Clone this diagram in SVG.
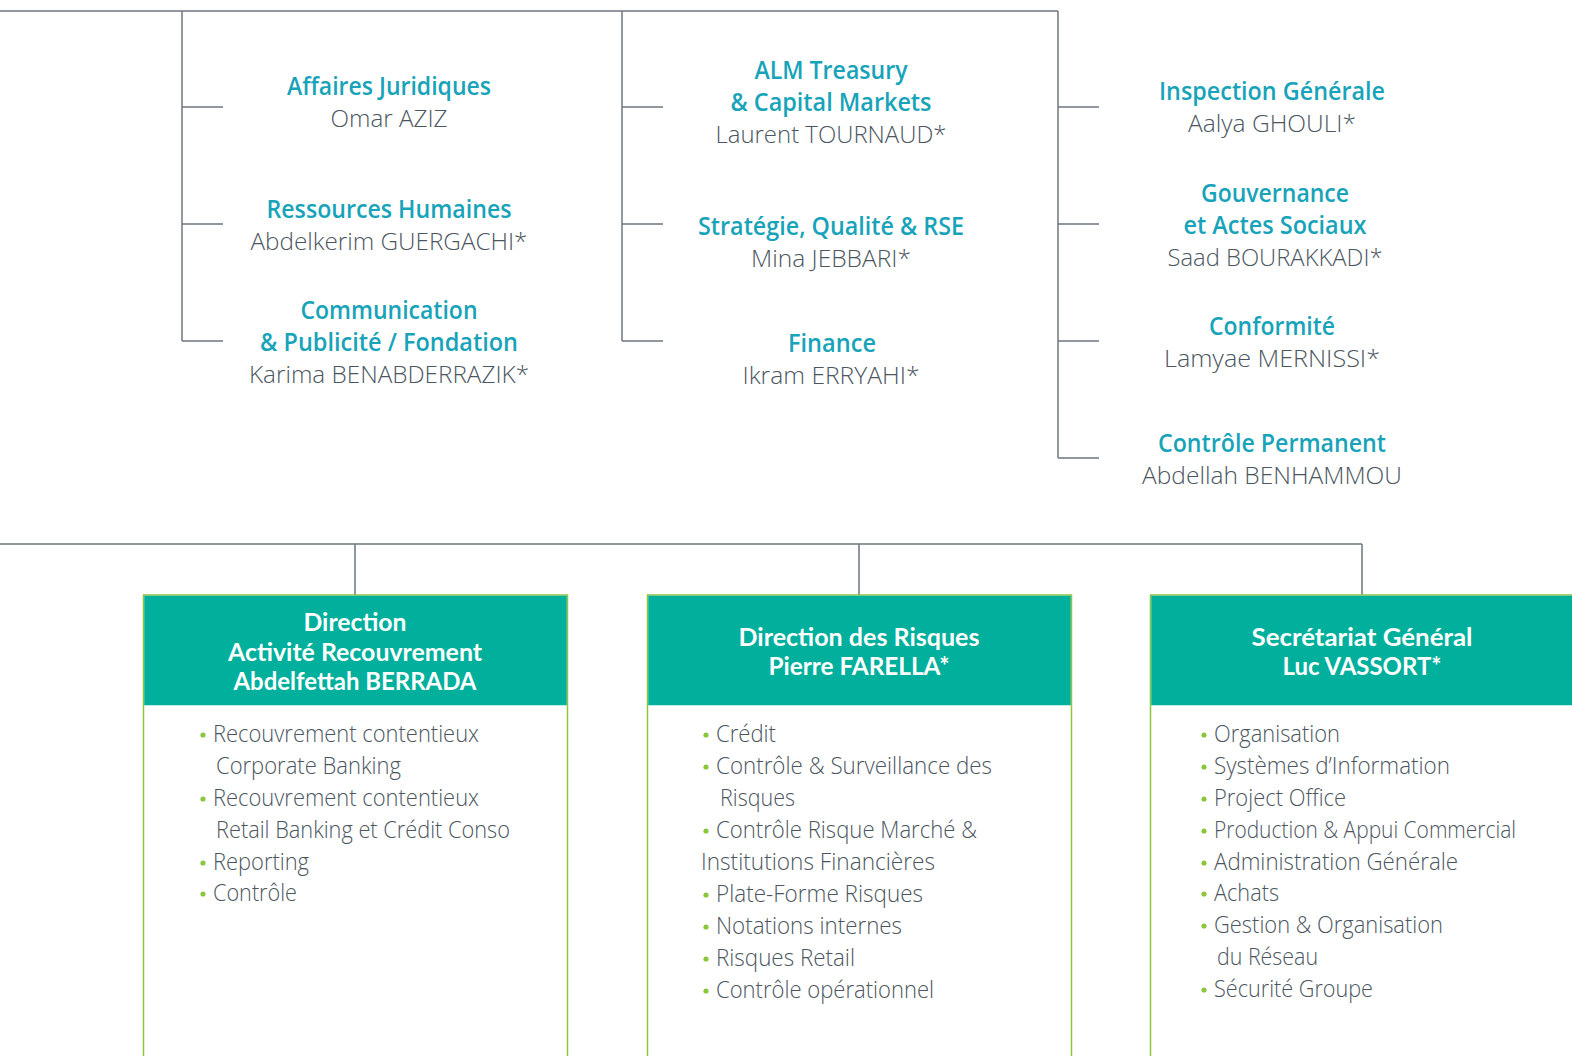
<svg xmlns="http://www.w3.org/2000/svg" width="1572" height="1056" viewBox="0 0 1572 1056">
  <style>
    .ln { stroke: #6d7680; stroke-width: 1.5; fill: none; }
    text { font-family: "Open Sans", "Liberation Sans", sans-serif; }
    .t { font-size: 25px; font-weight: 600; fill: #17a3b9; text-anchor: middle; }
    .n { font-size: 24px; font-weight: 300; fill: #4b5660; text-anchor: middle; }
    .h { font-family: Lato, "Liberation Sans", sans-serif; font-size: 24px; font-weight: 700; fill: #ffffff; text-anchor: middle; }
    .b { font-size: 23px; font-weight: 300; fill: #4b5660; }
    .dot { fill: #8cc63f; }
    .box { fill: #ffffff; stroke: #8cc63f; stroke-width: 1.5; }
    .hd { fill: #00b09c; }
  </style>

  <!-- connectors -->
  <g id="connectors" class="ln">
    <path d="M0 11 H1058"/>
    <path d="M182 11 V341"/>
    <path d="M622 11 V341"/>
    <path d="M1058 11 V458"/>
    <path d="M182 107 H223 M182 224 H223 M182 341 H223"/>
    <path d="M622 107 H663 M622 224 H663 M622 341 H663"/>
    <path d="M1058 107 H1099 M1058 224 H1099 M1058 341 H1099 M1058 458 H1099"/>
    <path d="M0 544 H1362"/>
    <path d="M355 544 V595 M859 544 V595 M1362 544 V595"/>
  </g>

  <!-- left column -->
  <g id="affaires-juridiques">
    <text class="t" x="389" y="95" textLength="204" lengthAdjust="spacingAndGlyphs">Affaires Juridiques</text>
    <text class="n" x="389" y="127" textLength="117" lengthAdjust="spacingAndGlyphs">Omar AZIZ</text>
  </g>
  <g id="ressources-humaines">
    <text class="t" x="389" y="218" textLength="245" lengthAdjust="spacingAndGlyphs">Ressources Humaines</text>
    <text class="n" x="389" y="250" textLength="277" lengthAdjust="spacingAndGlyphs">Abdelkerim GUERGACHI*</text>
  </g>
  <g id="communication">
    <text class="t" x="389" y="319" textLength="177" lengthAdjust="spacingAndGlyphs">Communication</text>
    <text class="t" x="389" y="351" textLength="258" lengthAdjust="spacingAndGlyphs">&amp; Publicité / Fondation</text>
    <text class="n" x="389" y="383" textLength="280" lengthAdjust="spacingAndGlyphs">Karima BENABDERRAZIK*</text>
  </g>

  <!-- middle column -->
  <g id="alm-treasury">
    <text class="t" x="831" y="79" textLength="153" lengthAdjust="spacingAndGlyphs">ALM Treasury</text>
    <text class="t" x="831" y="111" textLength="201" lengthAdjust="spacingAndGlyphs">&amp; Capital Markets</text>
    <text class="n" x="831" y="143" textLength="231" lengthAdjust="spacingAndGlyphs">Laurent TOURNAUD*</text>
  </g>
  <g id="strategie">
    <text class="t" x="831" y="235" textLength="266" lengthAdjust="spacingAndGlyphs">Stratégie, Qualité &amp; RSE</text>
    <text class="n" x="831" y="267" textLength="160" lengthAdjust="spacingAndGlyphs">Mina JEBBARI*</text>
  </g>
  <g id="finance">
    <text class="t" x="832" y="352" textLength="88" lengthAdjust="spacingAndGlyphs">Finance</text>
    <text class="n" x="831" y="384" textLength="177" lengthAdjust="spacingAndGlyphs">Ikram ERRYAHI*</text>
  </g>

  <!-- right column -->
  <g id="inspection-generale">
    <text class="t" x="1272" y="100" textLength="226" lengthAdjust="spacingAndGlyphs">Inspection Générale</text>
    <text class="n" x="1272" y="132" textLength="168" lengthAdjust="spacingAndGlyphs">Aalya GHOULI*</text>
  </g>
  <g id="gouvernance">
    <text class="t" x="1275" y="202" textLength="148" lengthAdjust="spacingAndGlyphs">Gouvernance</text>
    <text class="t" x="1275" y="234" textLength="183" lengthAdjust="spacingAndGlyphs">et Actes Sociaux</text>
    <text class="n" x="1275" y="266" textLength="215" lengthAdjust="spacingAndGlyphs">Saad BOURAKKADI*</text>
  </g>
  <g id="conformite">
    <text class="t" x="1272" y="335" textLength="126" lengthAdjust="spacingAndGlyphs">Conformité</text>
    <text class="n" x="1272" y="367" textLength="216" lengthAdjust="spacingAndGlyphs">Lamyae MERNISSI*</text>
  </g>
  <g id="controle-permanent">
    <text class="t" x="1272" y="452" textLength="228" lengthAdjust="spacingAndGlyphs">Contrôle Permanent</text>
    <text class="n" x="1272" y="484" textLength="260" lengthAdjust="spacingAndGlyphs">Abdellah BENHAMMOU</text>
  </g>

  <!-- Direction Activité Recouvrement -->
  <g id="recouvrement">
    <rect class="box" x="143.5" y="595" width="424" height="470"/>
    <rect class="hd" x="144.25" y="595.75" width="422.5" height="109.5"/>
    <text class="h" x="355" y="631" textLength="103" lengthAdjust="spacingAndGlyphs">Direction</text>
    <text class="h" x="355" y="661" textLength="254" lengthAdjust="spacingAndGlyphs">Activité Recouvrement</text>
    <text class="h" x="355" y="690" textLength="243" lengthAdjust="spacingAndGlyphs">Abdelfettah BERRADA</text>
    <circle class="dot" cx="203" cy="735" r="2.6"/>
    <text class="b" x="213" y="742" textLength="266" lengthAdjust="spacingAndGlyphs">Recouvrement contentieux</text>
    <text class="b" x="216" y="774" textLength="185" lengthAdjust="spacingAndGlyphs">Corporate Banking</text>
    <circle class="dot" cx="203" cy="799" r="2.6"/>
    <text class="b" x="213" y="806" textLength="266" lengthAdjust="spacingAndGlyphs">Recouvrement contentieux</text>
    <text class="b" x="216" y="838" textLength="294" lengthAdjust="spacingAndGlyphs">Retail Banking et Crédit Conso</text>
    <circle class="dot" cx="203" cy="863" r="2.6"/>
    <text class="b" x="213" y="870" textLength="96" lengthAdjust="spacingAndGlyphs">Reporting</text>
    <circle class="dot" cx="203" cy="894" r="2.6"/>
    <text class="b" x="213" y="901" textLength="84" lengthAdjust="spacingAndGlyphs">Contrôle</text>
  </g>

  <!-- Direction des Risques -->
  <g id="risques">
    <rect class="box" x="647.5" y="595" width="424" height="470"/>
    <rect class="hd" x="648.25" y="595.75" width="422.5" height="109.5"/>
    <text class="h" x="859" y="646" textLength="241" lengthAdjust="spacingAndGlyphs">Direction des Risques</text>
    <text class="h" x="859" y="675" textLength="181" lengthAdjust="spacingAndGlyphs">Pierre FARELLA*</text>
    <circle class="dot" cx="706" cy="735" r="2.6"/>
    <text class="b" x="716" y="742" textLength="60" lengthAdjust="spacingAndGlyphs">Crédit</text>
    <circle class="dot" cx="706" cy="767" r="2.6"/>
    <text class="b" x="716" y="774" textLength="276" lengthAdjust="spacingAndGlyphs">Contrôle &amp; Surveillance des</text>
    <text class="b" x="720" y="806" textLength="75" lengthAdjust="spacingAndGlyphs">Risques</text>
    <circle class="dot" cx="706" cy="831" r="2.6"/>
    <text class="b" x="716" y="838" textLength="261" lengthAdjust="spacingAndGlyphs">Contrôle Risque Marché &amp;</text>
    <text class="b" x="701" y="870" textLength="234" lengthAdjust="spacingAndGlyphs">Institutions Financières</text>
    <circle class="dot" cx="706" cy="895" r="2.6"/>
    <text class="b" x="716" y="902" textLength="207" lengthAdjust="spacingAndGlyphs">Plate-Forme Risques</text>
    <circle class="dot" cx="706" cy="927" r="2.6"/>
    <text class="b" x="716" y="934" textLength="186" lengthAdjust="spacingAndGlyphs">Notations internes</text>
    <circle class="dot" cx="706" cy="959" r="2.6"/>
    <text class="b" x="716" y="966" textLength="139" lengthAdjust="spacingAndGlyphs">Risques Retail</text>
    <circle class="dot" cx="706" cy="991" r="2.6"/>
    <text class="b" x="716" y="998" textLength="218" lengthAdjust="spacingAndGlyphs">Contrôle opérationnel</text>
  </g>

  <!-- Secrétariat Général -->
  <g id="secretariat">
    <rect class="box" x="1150.5" y="595" width="440" height="470"/>
    <rect class="hd" x="1151.25" y="595.75" width="438.5" height="109.5"/>
    <text class="h" x="1362" y="646" textLength="221" lengthAdjust="spacingAndGlyphs">Secrétariat Général</text>
    <text class="h" x="1362" y="675" textLength="159" lengthAdjust="spacingAndGlyphs">Luc VASSORT*</text>
    <circle class="dot" cx="1204" cy="735" r="2.6"/>
    <text class="b" x="1214" y="742" textLength="126" lengthAdjust="spacingAndGlyphs">Organisation</text>
    <circle class="dot" cx="1204" cy="767" r="2.6"/>
    <text class="b" x="1214" y="774" textLength="236" lengthAdjust="spacingAndGlyphs">Systèmes d’Information</text>
    <circle class="dot" cx="1204" cy="799" r="2.6"/>
    <text class="b" x="1214" y="806" textLength="132" lengthAdjust="spacingAndGlyphs">Project Office</text>
    <circle class="dot" cx="1204" cy="831" r="2.6"/>
    <text class="b" x="1214" y="838" textLength="302" lengthAdjust="spacingAndGlyphs">Production &amp; Appui Commercial</text>
    <circle class="dot" cx="1204" cy="863" r="2.6"/>
    <text class="b" x="1214" y="870" textLength="244" lengthAdjust="spacingAndGlyphs">Administration Générale</text>
    <circle class="dot" cx="1204" cy="894" r="2.6"/>
    <text class="b" x="1214" y="901" textLength="65" lengthAdjust="spacingAndGlyphs">Achats</text>
    <circle class="dot" cx="1204" cy="926" r="2.6"/>
    <text class="b" x="1214" y="933" textLength="229" lengthAdjust="spacingAndGlyphs">Gestion &amp; Organisation</text>
    <text class="b" x="1217" y="965" textLength="101" lengthAdjust="spacingAndGlyphs">du Réseau</text>
    <circle class="dot" cx="1204" cy="990" r="2.6"/>
    <text class="b" x="1214" y="997" textLength="159" lengthAdjust="spacingAndGlyphs">Sécurité Groupe</text>
  </g>
</svg>
